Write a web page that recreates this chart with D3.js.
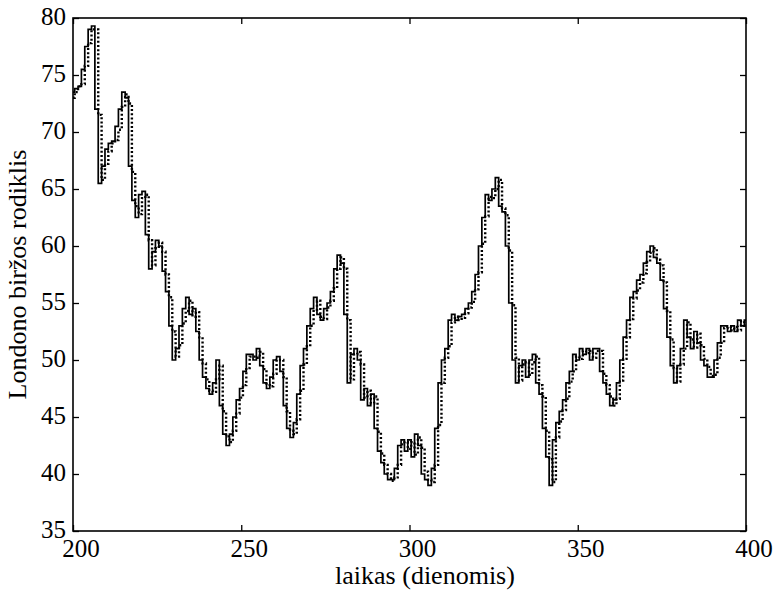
<!DOCTYPE html>
<html>
<head>
<meta charset="utf-8">
<title>Londono biržos rodiklis</title>
<style>
  body { margin: 0; background: #fff; }
  text { font-family: "Times New Roman", Times, "Liberation Serif", "DejaVu Serif", "Noto Serif", serif; }
</style>
<script src="https://d3js.org/d3.v7.min.js"></script>
</head>
<body>
<script>

// day range shown on the x axis
const startDay = 200;

// actual index value (solid line), one value per day 200..400
const actual = [
  73.5, 73.8, 74.0, 75.5, 77.5, 79.0, 79.3, 72.0, 65.5, 67.0,
  68.5, 69.0, 69.2, 70.5, 72.0, 73.5, 73.0, 67.0, 64.0, 62.5,
  64.5, 64.8, 61.0, 58.0, 59.5, 60.5, 60.0, 57.8, 56.0, 53.0,
  50.0, 51.0, 53.0, 54.5, 55.5, 54.0, 54.5, 52.5, 50.0, 48.5,
  47.5, 47.0, 48.0, 50.0, 46.0, 43.5, 42.5, 43.5, 45.0, 46.5,
  47.5, 49.0, 50.5, 50.5, 50.0, 51.0, 49.5, 48.0, 47.5, 48.5,
  50.0, 50.3, 49.0, 46.0, 44.0, 43.2, 44.5, 47.0, 49.5, 51.0,
  53.0, 54.5, 55.5, 54.0, 53.5, 54.5, 55.0, 56.0, 58.0, 59.2,
  58.5, 54.0, 48.0, 50.5, 51.0, 50.0, 46.5, 47.5, 46.0, 47.0,
  44.0, 42.0, 41.0, 40.0, 39.5, 39.5, 40.5, 42.5, 43.0, 42.0,
  43.0, 41.5, 43.5, 42.5, 40.0, 39.5, 39.0, 40.5, 44.0, 48.0,
  50.0, 51.0, 53.5, 54.0, 53.5, 53.8, 54.0, 54.5, 55.0, 56.0,
  57.5, 60.0, 62.5, 64.5, 64.0, 65.0, 66.0, 63.5, 63.0, 60.0,
  55.0, 50.0, 48.0, 49.5, 50.0, 48.5, 50.0, 50.5, 48.0, 47.0,
  44.0, 41.5, 39.0, 43.0, 44.5, 45.5, 46.5, 48.0, 49.0, 50.5,
  50.0, 51.0, 50.5, 51.0, 50.0, 51.0, 51.0, 49.0, 48.0, 47.0,
  46.0, 46.5, 48.0, 50.0, 52.0, 53.5, 55.5, 56.0, 57.0, 57.5,
  58.5, 59.5, 60.0, 59.0, 58.5, 57.0, 54.5, 52.0, 49.5, 48.0,
  49.5, 51.0, 53.5, 52.0, 51.0, 52.5, 51.5, 50.0, 49.5, 48.5,
  48.5, 50.0, 51.5, 53.0, 53.0, 52.5, 53.0, 52.5, 53.5, 53.0,
  53.5
];

// predicted index value (dotted line), same days
const predicted = [
  73.0, 73.5, 74.0, 74.2, 75.8, 77.8, 79.0, 79.0, 71.5, 65.8,
  67.2, 68.3, 69.0, 69.3, 70.2, 72.2, 73.3, 72.5, 66.5, 63.5,
  62.8, 64.2, 64.5, 60.5, 58.3, 59.8, 60.3, 59.5, 57.5, 55.5,
  52.5, 50.3, 51.3, 53.2, 54.3, 55.2, 53.8, 54.2, 52.0, 49.7,
  48.3, 47.3, 47.2, 48.3, 49.5, 45.5, 43.3, 42.8, 43.8, 45.3,
  46.7, 47.8, 49.3, 50.3, 50.3, 50.2, 50.7, 49.2, 47.8, 47.7,
  48.8, 50.0, 50.0, 48.5, 45.5, 43.8, 43.5, 44.8, 47.3, 49.6,
  51.2, 53.0, 54.4, 55.2, 53.8, 53.6, 54.6, 55.2, 56.3, 58.0,
  59.0, 58.0, 53.5, 48.3, 50.5, 50.7, 49.6, 46.7, 47.3, 46.2,
  46.8, 43.7, 41.8, 40.8, 40.0, 39.4, 39.7, 40.8, 42.6, 42.8,
  42.2, 42.8, 41.7, 43.2, 42.3, 40.2, 39.5, 39.3, 40.8, 44.3,
  48.0, 50.2, 51.2, 53.3, 53.8, 53.5, 53.7, 54.1, 54.6, 55.1,
  56.2, 57.7, 60.2, 62.6, 64.3, 64.2, 65.0, 65.8, 63.3, 62.7,
  59.6, 54.8, 50.2, 48.2, 49.6, 49.8, 48.7, 49.8, 50.3, 47.8,
  46.8, 43.8, 41.3, 39.3, 43.2, 44.6, 45.6, 46.6, 48.1, 49.0,
  50.3, 50.1, 50.8, 50.6, 50.8, 50.2, 50.8, 50.8, 48.8, 47.8,
  46.8, 46.0, 46.6, 48.2, 50.1, 52.0, 53.6, 55.4, 56.1, 56.8,
  57.6, 58.6, 59.4, 59.8, 58.8, 58.3, 56.8, 54.3, 51.8, 49.3,
  48.1, 49.6, 51.0, 53.3, 51.8, 51.1, 52.3, 51.3, 50.1, 49.4,
  48.6, 48.7, 50.2, 51.5, 52.8, 52.9, 52.6, 52.9, 52.6, 53.4,
  53.0
];

const xTicks = [200, 250, 300, 350, 400];
const yTicks = [35, 40, 45, 50, 55, 60, 65, 70, 75, 80];

const xTitle = "laikas (dienomis)";
const yTitle = "Londono biržos rodiklis";

const W = 778, H = 596;
const margin = {top: 18, right: 32, bottom: 65, left: 73};

const svg = d3.select("body").append("svg")
  .attr("width", W)
  .attr("height", H);

const x = d3.scaleLinear().domain([200, 400]).range([margin.left, W - margin.right]);
const y = d3.scaleLinear().domain([35, 80]).range([H - margin.bottom, margin.top]);

const toPoints = arr => arr.map((v, i) => ({day: startDay + i, value: v}));

const line = d3.line()
  .x(d => x(d.day))
  .y(d => y(d.value))
  .curve(d3.curveStep);

const plot = svg.append("g");

plot.append("path")
  .datum(toPoints(actual))
  .attr("fill", "none")
  .attr("stroke", "#000")
  .attr("stroke-width", 1.7)
  .attr("d", line);

plot.append("path")
  .datum(toPoints(predicted))
  .attr("fill", "none")
  .attr("stroke", "#000")
  .attr("stroke-width", 2.4)
  .attr("stroke-dasharray", "2,2.2")
  .attr("d", line);

// frame with inward ticks on all four sides (matlab style)
const tickLen = 6;

svg.append("g")
  .attr("transform", "translate(0," + y(35) + ")")
  .call(d3.axisTop(x).tickValues(xTicks).tickSize(tickLen).tickFormat(""))
  .call(g => g.select(".domain").remove());
svg.append("g")
  .attr("transform", "translate(0," + y(80) + ")")
  .call(d3.axisBottom(x).tickValues(xTicks).tickSize(tickLen).tickFormat(""))
  .call(g => g.select(".domain").remove());
svg.append("g")
  .attr("transform", "translate(" + x(200) + ",0)")
  .call(d3.axisRight(y).tickValues(yTicks).tickSize(tickLen).tickFormat(""))
  .call(g => g.select(".domain").remove());
svg.append("g")
  .attr("transform", "translate(" + x(400) + ",0)")
  .call(d3.axisLeft(y).tickValues(yTicks).tickSize(tickLen).tickFormat(""))
  .call(g => g.select(".domain").remove());

svg.selectAll(".tick line").attr("stroke", "#000").attr("stroke-width", 1.3);

svg.append("rect")
  .attr("x", x(200))
  .attr("y", y(80))
  .attr("width", x(400) - x(200))
  .attr("height", y(35) - y(80))
  .attr("fill", "none")
  .attr("stroke", "#000")
  .attr("stroke-width", 1.6);

// tick labels
svg.selectAll("text.xlab").data(xTicks).enter().append("text")
  .attr("class", "xlab")
  .attr("x", d => x(d) + 8)
  .attr("y", y(35) + 26)
  .attr("text-anchor", "middle")
  .style("font-size", "25px")
  .text(d => d);

svg.selectAll("text.ylab").data(yTicks).enter().append("text")
  .attr("class", "ylab")
  .attr("x", x(200) - 7)
  .attr("y", d => y(d) + 7)
  .attr("text-anchor", "end")
  .style("font-size", "25px")
  .text(d => d);

svg.append("text")
  .attr("x", 425)
  .attr("y", 584)
  .attr("text-anchor", "middle")
  .style("font-size", "26px")
  .text(xTitle);

svg.append("text")
  .attr("transform", "translate(26," + ((y(35) + y(80)) / 2) + ") rotate(-90)")
  .attr("text-anchor", "middle")
  .style("font-size", "26px")
  .text(yTitle);

</script>
</body>
</html>
